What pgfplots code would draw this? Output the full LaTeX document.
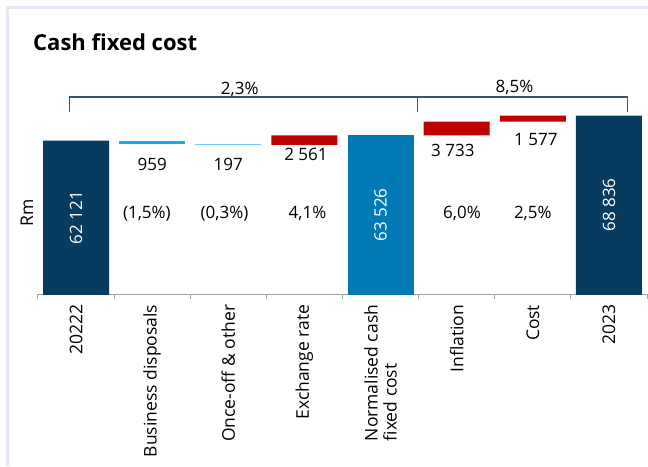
\documentclass[border=0pt]{standalone}
\usepackage{fontspec}
\setmainfont{Open Sans}
\usepackage{pgfplots}
\usepackage{pgfplotstable}
\pgfplotsset{compat=1.18}
\definecolor{navy}{HTML}{073B5F}
\definecolor{cyanb}{HTML}{14ACE6}
\definecolor{lcyan}{HTML}{66CCF2}
\definecolor{redb}{HTML}{C00000}
\definecolor{blueb}{HTML}{0079B5}
\definecolor{framecol}{HTML}{E3EAF2}
\definecolor{brk}{HTML}{3A5570}
\definecolor{axgray}{HTML}{A0A0A0}
\pgfplotstableread{
x base navy cyan lcyan red blue
0 0 62121 0 0 0 0
1 61162 0 959 0 0 0
2 60965 0 0 197 0 0
3 60965 0 0 0 2561 0
4 0 0 0 0 0 63526
5 63526 0 0 0 3733 0
6 67259 0 0 0 1577 0
7 0 68836 0 0 0 0
}\wf
\newcommand{\val}{\fontsize{17}{20}\selectfont}
\begin{document}
\begin{tikzpicture}
\path[use as bounding box] (0pt,0pt) rectangle (648pt,466pt);
\draw[framecol, line width=3pt] (7.5pt,0pt) -- (7.5pt,458.5pt) -- (648pt,458.5pt);
\node[anchor=base west, inner sep=0pt, font=\bfseries\fontsize{22}{25}\selectfont] at (33pt,415pt) {Cash fixed cost};
\node[rotate=90, font=\fontsize{17.5}{20}\selectfont] at (27pt,253pt) {Rm};
\begin{axis}[at={(38pt,171.7pt)}, anchor=south west, scale only axis,
  width=609pt, height=178.6pt,
  xmin=-0.5, xmax=7.5, ymin=20865, ymax=68836,
  ybar stacked, bar width=0.867,
  clip mode=individual,
  axis x line*=bottom, axis y line=none,
  x axis line style={axgray, line width=1pt},
  xtick={0,...,7},
  xticklabels={20222,Business disposals,Once-off \& other,Exchange rate,{Normalised cash\\fixed cost},Inflation,Cost,2023},
  major tick length=0pt,
  minor xtick={-0.5,0.5,...,7.5},
  minor tick length=5pt, tick align=outside,
  minor tick style={axgray, line width=1pt},
  xticklabel style={rotate=90, anchor=east, align=left, font=\fontsize{17.5}{19}\selectfont},
  xticklabel shift=7pt,
  ytick=\empty,
]
\addplot[fill=none, draw=none] table[x=x, y=base] {\wf};
\addplot[fill=navy, draw=none] table[x=x, y=navy] {\wf};
\addplot[fill=cyanb, draw=none] table[x=x, y=cyan] {\wf};
\addplot[fill=lcyan, draw=none] table[x=x, y=lcyan] {\wf};
\addplot[fill=redb, draw=none] table[x=x, y=red] {\wf};
\addplot[fill=blueb, draw=none] table[x=x, y=blue] {\wf};
% value labels
\node[font=\val] at (axis cs:1,55782) {959};
\node[font=\val] at (axis cs:2,55782) {197};
\node[font=\val] at (axis cs:3.02,58468) {2 561};
\node[font=\val] at (axis cs:4.95,59623) {3 733};
\node[font=\val] at (axis cs:6.04,62309) {1 577};
\node[font=\val] at (axis cs:0.93,42621) {(1,5\%)};
\node[font=\val] at (axis cs:1.95,42621) {(0,3\%)};
\node[font=\val] at (axis cs:3.04,42621) {4,1\%};
\node[font=\val] at (axis cs:5.07,42621) {6,0\%};
\node[font=\val] at (axis cs:6,42621) {2,5\%};
\coordinate (b0) at (axis cs:0,41493);
\coordinate (b4) at (axis cs:4,42196);
\coordinate (b7) at (axis cs:7,44850);
% brackets
\draw[brk, line width=1.2pt] (axis cs:-0.09,69830) -- (axis cs:-0.09,73859) -- (axis cs:7.24,73859) -- (axis cs:7.24,69830);
\draw[brk, line width=1.2pt] (axis cs:4.48,73859) -- (axis cs:4.48,69830);
\node[font=\val, anchor=base] at (axis cs:2.15,74396) {2,3\%};
\node[font=\val, anchor=base] at (axis cs:5.76,75067) {8,5\%};
\end{axis}
\node[font=\val, rotate=90, white] at (b0) {62 121};
\node[font=\val, rotate=90, white] at (b4) {63 526};
\node[font=\val, rotate=90, white] at (b7) {68 836};
\end{tikzpicture}
\end{document}
